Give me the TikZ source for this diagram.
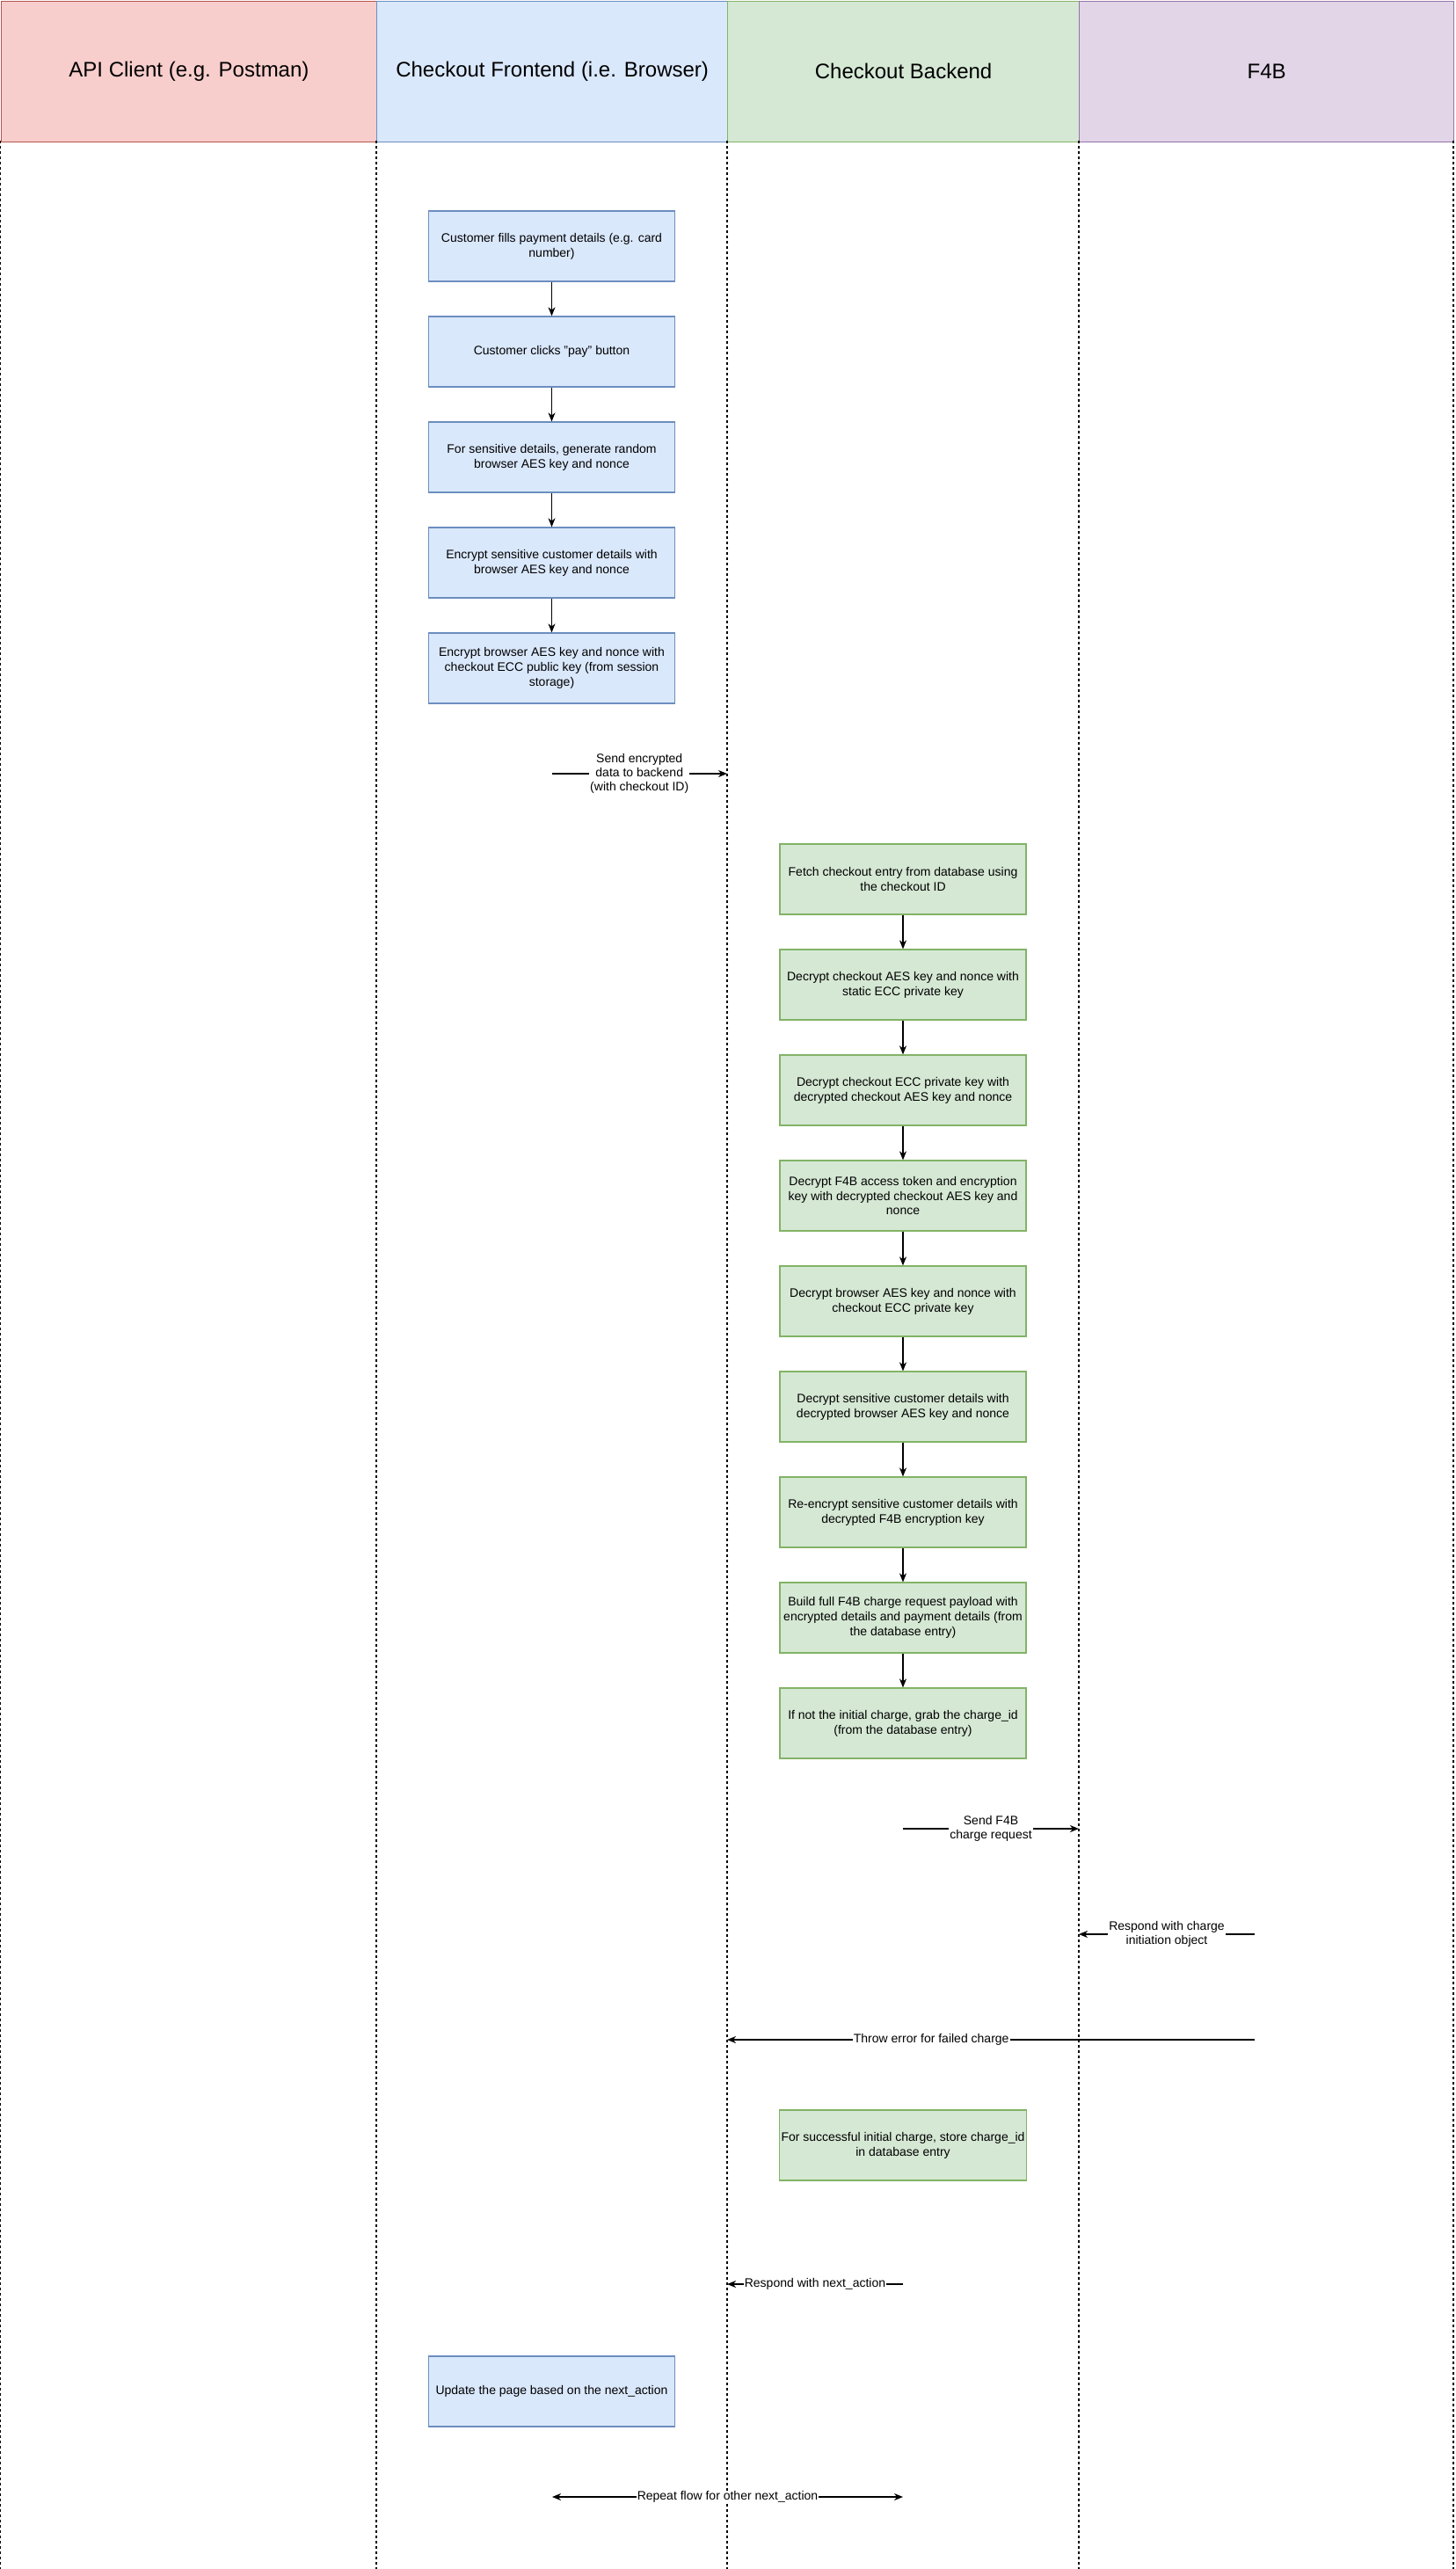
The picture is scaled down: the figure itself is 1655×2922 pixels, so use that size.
\documentclass[tikz,border=0pt]{standalone}
\usepackage{fontspec}
\setmainfont{Liberation Sans}
\usetikzlibrary{arrows.meta}

\definecolor{apiFill}{HTML}{F8CECC}
\definecolor{apiLine}{HTML}{B85450}
\definecolor{feFill}{HTML}{DAE8FC}
\definecolor{feLine}{HTML}{6C8EBF}
\definecolor{beFill}{HTML}{D5E8D4}
\definecolor{beLine}{HTML}{82B366}
\definecolor{fbFill}{HTML}{E1D5E7}
\definecolor{fbLine}{HTML}{9673A6}

\begin{document}
\begin{tikzpicture}[x=1pt,y=-1pt,
  lanehead/.style={draw, line width=1.2pt, minimum height=160pt, inner sep=0pt,
    anchor=north west, font=\fontsize{24}{28}\selectfont},
  stepbox/.style={draw, line width=1.2pt, minimum width=280pt, minimum height=80pt,
    inner sep=2pt, align=center, font=\fontsize{14}{16.8}\selectfont},
  febox/.style={stepbox, fill=feFill, draw=feLine},
  bebox/.style={stepbox, fill=beFill, draw=beLine},
  lifeline/.style={line width=1.2pt, dash pattern=on 3pt off 3pt},
  flow/.style={line width=1.2pt, -{Stealth[length=10pt,width=8pt,inset=3pt]}},
  twoway/.style={line width=1.2pt, {Stealth[length=10pt,width=8pt,inset=3pt]}-{Stealth[length=10pt,width=8pt,inset=3pt]}},
  msg/.style={fill=white, inner sep=1pt, align=center, font=\fontsize{14}{16}\selectfont}
]
\useasboundingbox (0,0) rectangle (1655,2922);

% lane headers
\node[lanehead, fill=apiFill, draw=apiLine, minimum width=427.5pt] (api) at (0.6,0.6) {API Client (e.g. Postman)};
\node[lanehead, fill=feFill, draw=feLine, minimum width=399pt] (fe) at (428,0.6) {Checkout Frontend (i.e. Browser)};
\node[lanehead, fill=beFill, draw=beLine, minimum width=400pt] (be) at (827,0.6) {Checkout Backend};
\node[lanehead, fill=fbFill, draw=fbLine, minimum width=426pt] (fb) at (1227,0.6) {F4B};

% lifelines
\coordinate (l0t) at (0.6,160);   \coordinate (l0b) at (0.6,2922);
\coordinate (l1t) at (428,160);   \coordinate (l1b) at (428,2922);
\coordinate (l2t) at (827,160);   \coordinate (l2b) at (827,2922);
\coordinate (l3t) at (1227,160);  \coordinate (l3b) at (1227,2922);
\coordinate (l4t) at (1653,160);  \coordinate (l4b) at (1653,2922);
\foreach \i in {0,...,4} \draw[lifeline] (l\i t) -- (l\i b);

% frontend steps
\node[febox] (f1) at (627.5,280) {Customer fills payment details (e.g. card\\number)};
\node[febox] (f2) at (627.5,400) {Customer clicks "pay" button};
\node[febox] (f3) at (627.5,520) {For sensitive details, generate random\\browser AES key and nonce};
\node[febox] (f4) at (627.5,640) {Encrypt sensitive customer details with\\browser AES key and nonce};
\node[febox] (f5) at (627.5,760) {Encrypt browser AES key and nonce with\\checkout ECC public key (from session\\storage)};
\foreach \a/\b in {f1/f2,f2/f3,f3/f4,f4/f5} \draw[flow] (\a) -- (\b);

% send to backend
\coordinate (s1a) at (627.5,880);
\coordinate (s1b) at (827,880);
\draw[flow] (s1a) -- node[msg] {Send encrypted\\data to backend\\(with checkout ID)} (s1b);

% backend steps
\node[bebox] (b1) at (1027,1000) {Fetch checkout entry from database using\\the checkout ID};
\node[bebox] (b2) at (1027,1120) {Decrypt checkout AES key and nonce with\\static ECC private key};
\node[bebox] (b3) at (1027,1240) {Decrypt checkout ECC private key with\\decrypted checkout AES key and nonce};
\node[bebox] (b4) at (1027,1360) {Decrypt F4B access token and encryption\\key with decrypted checkout AES key and\\nonce};
\node[bebox] (b5) at (1027,1480) {Decrypt browser AES key and nonce with\\checkout ECC private key};
\node[bebox] (b6) at (1027,1600) {Decrypt sensitive customer details with\\decrypted browser AES key and nonce};
\node[bebox] (b7) at (1027,1720) {Re-encrypt sensitive customer details with\\decrypted F4B encryption key};
\node[bebox] (b8) at (1027,1840) {Build full F4B charge request payload with\\encrypted details and payment details (from\\the database entry)};
\node[bebox] (b9) at (1027,1960) {If not the initial charge, grab the charge\_id\\(from the database entry)};
\foreach \a/\b in {b1/b2,b2/b3,b3/b4,b4/b5,b5/b6,b6/b7,b7/b8,b8/b9} \draw[flow] (\a) -- (\b);

% exchange with F4B
\coordinate (s2a) at (1027,2080);
\coordinate (s2b) at (1227,2080);
\draw[flow] (s2a) -- node[msg] {Send F4B\\charge request} (s2b);

\coordinate (r1a) at (1427,2200);
\coordinate (r1b) at (1227,2200);
\draw[flow] (r1a) -- node[msg] {Respond with charge\\initiation object} (r1b);

\coordinate (e1a) at (1427,2320);
\coordinate (e1b) at (827,2320);
\draw[flow] (e1a) -- node[msg, pos=0.613] {Throw error for failed charge} (e1b);

\node[bebox] (b10) at (1027,2440) {For successful initial charge, store charge\_id\\in database entry};

\coordinate (r2a) at (1027,2598);
\coordinate (r2b) at (827,2598);
\draw[flow] (r2a) -- node[msg] {Respond with next\_action} (r2b);

% back in the browser
\node[febox] (f6) at (627.5,2720) {Update the page based on the next\_action};

\coordinate (p1a) at (628,2840);
\coordinate (p1b) at (1027,2840);
\draw[twoway] (p1a) -- node[msg] {Repeat flow for other next\_action} (p1b);
\end{tikzpicture}
\end{document}
